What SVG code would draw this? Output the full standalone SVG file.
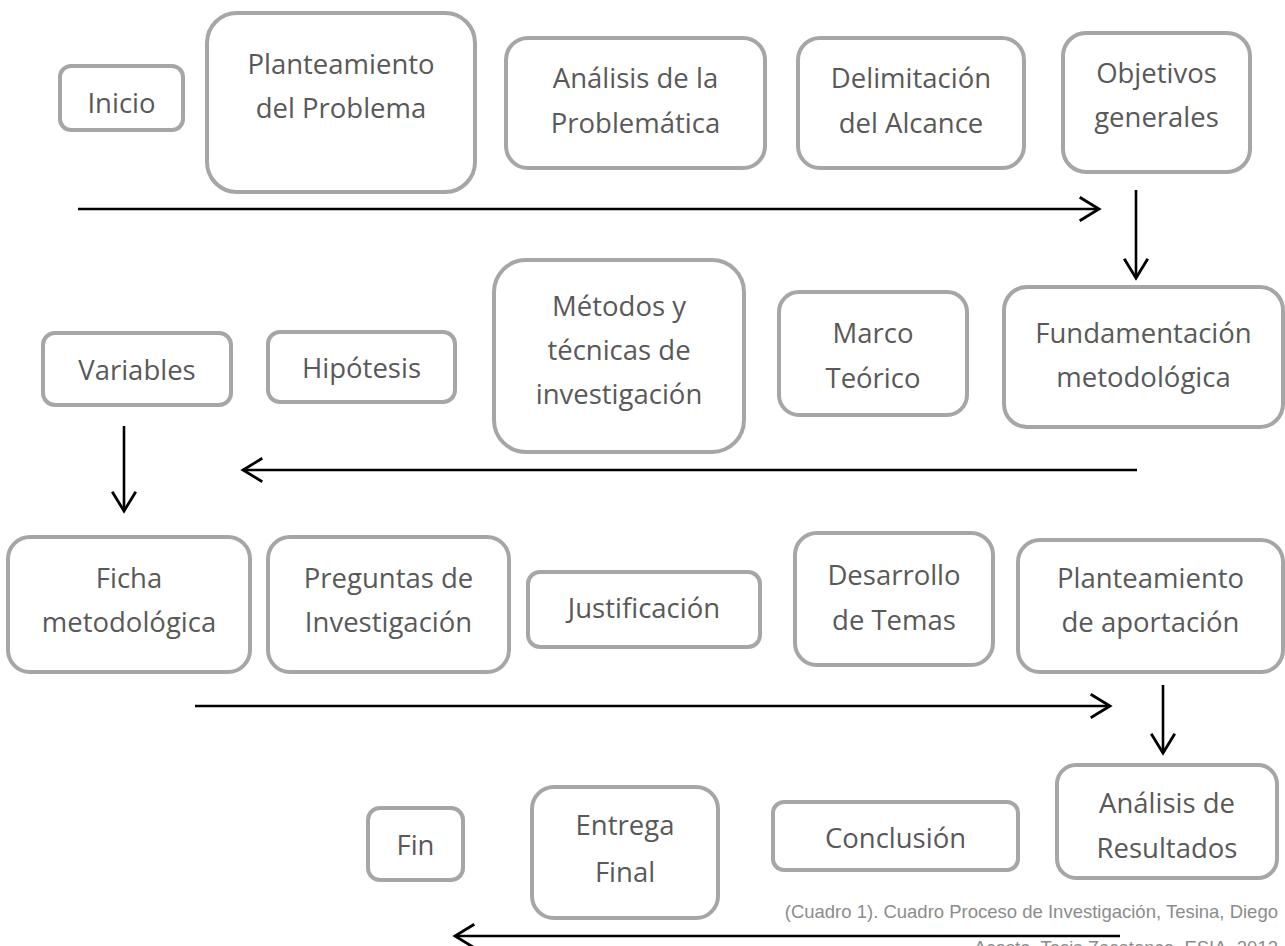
<svg xmlns="http://www.w3.org/2000/svg" width="1285" height="946" viewBox="0 0 1285 946">
<defs>
<style>
.box{fill:#ffffff;stroke:#a6a6a6;stroke-width:4}
.t{font-family:"Open Sans","Noto Sans",sans-serif;font-size:27.5px;fill:#595959;text-anchor:middle}
.c{stroke:#000000;stroke-width:2.6;fill:none}
.cap{font-family:"Liberation Sans",Arial,sans-serif;font-size:18.5px;fill:#8c8c8c;text-anchor:end}
</style>
<marker id="ah" markerUnits="userSpaceOnUse" markerWidth="30" markerHeight="30" viewBox="-22 -14 26 28" refX="0" refY="0" orient="auto">
<path d="M-18,-11 L0,0 L-18,11" fill="none" stroke="#000000" stroke-width="2.6"/>
</marker>
</defs>
<rect width="1285" height="946" fill="#ffffff"/>
<g id="connectors">
<line class="c" x1="78" y1="209" x2="1099" y2="209" marker-end="url(#ah)"/>
<line class="c" x1="1136" y1="190" x2="1136" y2="278" marker-end="url(#ah)"/>
<line class="c" x1="1137" y1="470" x2="243" y2="470" marker-end="url(#ah)"/>
<line class="c" x1="124" y1="426" x2="124" y2="511" marker-end="url(#ah)"/>
<line class="c" x1="195" y1="706" x2="1110" y2="706" marker-end="url(#ah)"/>
<line class="c" x1="1163" y1="685" x2="1163" y2="753" marker-end="url(#ah)"/>
<line class="c" x1="1120" y1="936" x2="455" y2="936" marker-end="url(#ah)"/>
</g>
<g id="n-inicio"><rect class="box" x="60" y="66" width="123" height="64" rx="11"/><text class="t" x="121.5" y="113">Inicio</text></g>
<g id="n-planteamiento-problema"><rect class="box" x="207" y="13" width="268" height="179" rx="30"/><text class="t" x="341" y="74">Planteamiento</text><text class="t" x="341" y="118">del Problema</text></g>
<g id="n-analisis-problematica"><rect class="box" x="506" y="38" width="259" height="130" rx="22"/><text class="t" x="635.5" y="88">Análisis de la</text><text class="t" x="635.5" y="133">Problemática</text></g>
<g id="n-delimitacion"><rect class="box" x="798" y="38" width="226" height="130" rx="22"/><text class="t" x="911" y="88">Delimitación</text><text class="t" x="911" y="133">del Alcance</text></g>
<g id="n-objetivos"><rect class="box" x="1063" y="33" width="187" height="139" rx="23"/><text class="t" x="1156.5" y="83">Objetivos</text><text class="t" x="1156.5" y="127">generales</text></g>
<g id="n-variables"><rect class="box" x="43" y="333" width="188" height="72" rx="12"/><text class="t" x="137" y="380">Variables</text></g>
<g id="n-hipotesis"><rect class="box" x="268" y="332" width="187" height="70" rx="12"/><text class="t" x="361.5" y="378">Hipótesis</text></g>
<g id="n-metodos"><rect class="box" x="494" y="260" width="250" height="192" rx="32"/><text class="t" x="619" y="316">Métodos y</text><text class="t" x="619" y="360">técnicas de</text><text class="t" x="619" y="404">investigación</text></g>
<g id="n-marco"><rect class="box" x="779" y="292" width="188" height="123" rx="20"/><text class="t" x="873" y="343">Marco</text><text class="t" x="873" y="388">Teórico</text></g>
<g id="n-fundamentacion"><rect class="box" x="1004" y="287" width="279" height="140" rx="23"/><text class="t" x="1143.5" y="343">Fundamentación</text><text class="t" x="1143.5" y="387">metodológica</text></g>
<g id="n-ficha"><rect class="box" x="8" y="537" width="242" height="135" rx="22"/><text class="t" x="129" y="588">Ficha</text><text class="t" x="129" y="632">metodológica</text></g>
<g id="n-preguntas"><rect class="box" x="268" y="537" width="241" height="135" rx="22"/><text class="t" x="388.5" y="588">Preguntas de</text><text class="t" x="388.5" y="632">Investigación</text></g>
<g id="n-justificacion"><rect class="box" x="528" y="572" width="232" height="75" rx="12"/><text class="t" x="644" y="618">Justificación</text></g>
<g id="n-desarrollo"><rect class="box" x="795" y="533" width="198" height="132" rx="22"/><text class="t" x="894" y="585">Desarrollo</text><text class="t" x="894" y="630">de Temas</text></g>
<g id="n-aportacion"><rect class="box" x="1018" y="540" width="265" height="132" rx="22"/><text class="t" x="1150.5" y="588">Planteamiento</text><text class="t" x="1150.5" y="632">de aportación</text></g>
<g id="n-fin"><rect class="box" x="368" y="808" width="95" height="72" rx="12"/><text class="t" x="415.5" y="855">Fin</text></g>
<g id="n-entrega"><rect class="box" x="532" y="787" width="186" height="131" rx="22"/><text class="t" x="625" y="835">Entrega</text><text class="t" x="625" y="882">Final</text></g>
<g id="n-conclusion"><rect class="box" x="773" y="802" width="245" height="68" rx="11"/><text class="t" x="895.5" y="848">Conclusión</text></g>
<g id="n-analisis-resultados"><rect class="box" x="1057" y="765" width="220" height="113" rx="19"/><text class="t" x="1167" y="813">Análisis de</text><text class="t" x="1167" y="858">Resultados</text></g>
<g id="caption">
<text class="cap" x="1278" y="918">(Cuadro 1). Cuadro Proceso de Investigación, Tesina, Diego</text>
<text class="cap" x="1278" y="954">Acosta, Tesis Zacatenco, ESIA, 2012</text>
</g>
</svg>
